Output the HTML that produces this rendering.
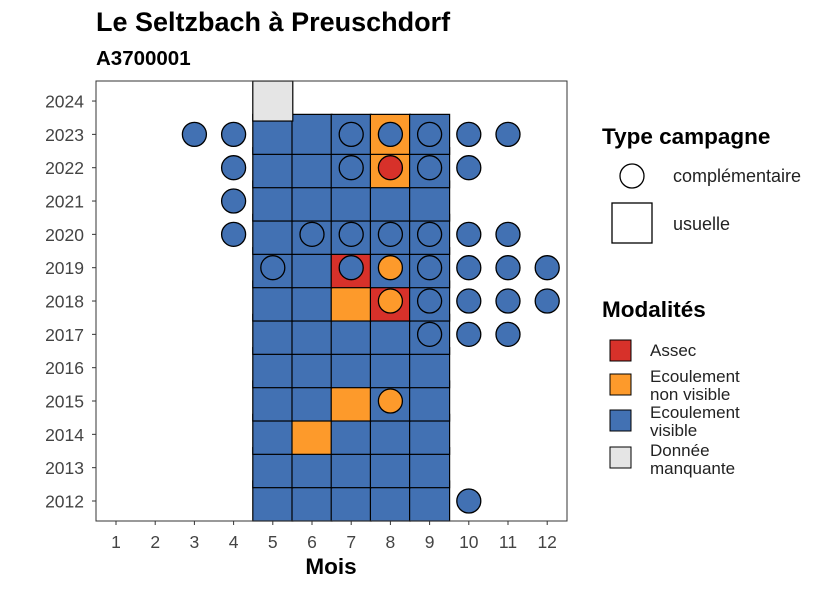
<!DOCTYPE html>
<html><head><meta charset="utf-8"><style>
body{margin:0;background:#fff;font-family:"Liberation Sans",sans-serif}
</style></head><body>
<svg id="c" width="826" height="590" xmlns="http://www.w3.org/2000/svg" font-family="Liberation Sans, sans-serif">
<text x="96" y="31" font-size="27" font-weight="bold" fill="#000">Le Seltzbach à Preuschdorf</text>
<text x="96" y="65" font-size="20.5" font-weight="bold" fill="#000">A3700001</text>
<g id="marks"></g>
<rect x="96" y="81" width="471" height="440" fill="none" stroke="#333" stroke-width="1"/>
<g id="axes"></g>
<text x="331" y="574" font-size="22.5" font-weight="bold" text-anchor="middle">Mois</text>
<g>
<text x="602" y="144" font-size="22.5" font-weight="bold">Type campagne</text>
<circle cx="632" cy="176" r="12" fill="#fff" stroke="#000" stroke-width="1.3"/>
<text x="673" y="182" font-size="18" fill="#222">complémentaire</text>
<rect x="612" y="203" width="40" height="40" fill="#fff" stroke="#000" stroke-width="1.3"/>
<text x="673" y="230" font-size="18" fill="#222">usuelle</text>
<text x="602" y="317" font-size="22.5" font-weight="bold">Modalités</text>
<rect x="610" y="340" width="21" height="21" fill="#d7312a" stroke="#000"/>
<text x="650" y="356" font-size="17" fill="#222">Assec</text>
<rect x="610" y="374" width="21" height="21" fill="#fd9a2b" stroke="#000"/>
<text x="650" y="382" font-size="17" fill="#222"><tspan x="650">Ecoulement</tspan><tspan x="650" dy="18">non visible</tspan></text>
<rect x="610" y="410" width="21" height="21" fill="#4271b3" stroke="#000"/>
<text x="650" y="418" font-size="17" fill="#222"><tspan x="650">Ecoulement</tspan><tspan x="650" dy="18">visible</tspan></text>
<rect x="610" y="447" width="21" height="21" fill="#e5e5e5" stroke="#000"/>
<text x="650" y="456" font-size="17" fill="#222"><tspan x="650">Donnée</tspan><tspan x="650" dy="18">manquante</tspan></text>
</g>
</svg>
<script>
const xTicks=[1,2,3,4,5,6,7,8,9,10,11,12];
const yTicks=[2012,2013,2014,2015,2016,2017,2018,2019,2020,2021,2022,2023,2024];
const colors={A:"#d7312a",N:"#fd9a2b",V:"#4271b3",M:"#e5e5e5"};
const usYears=[2012,2013,2014,2015,2016,2017,2018,2019,2020,2021,2022,2023];
const usMonths=[5,6,7,8,9];
const usExceptions=[[2014,6,"N"],[2015,7,"N"],[2018,7,"N"],[2018,8,"A"],[2019,7,"A"],[2022,8,"N"],[2023,8,"N"]];
const missing=[[2024,5,"M"]];
const comp=[[2012,10,"V"],[2015,8,"N"],[2017,9,"V"],[2017,10,"V"],[2017,11,"V"],
[2018,8,"N"],[2018,9,"V"],[2018,10,"V"],[2018,11,"V"],[2018,12,"V"],
[2019,5,"V"],[2019,7,"V"],[2019,8,"N"],[2019,9,"V"],[2019,10,"V"],[2019,11,"V"],[2019,12,"V"],
[2020,4,"V"],[2020,6,"V"],[2020,7,"V"],[2020,8,"V"],[2020,9,"V"],[2020,10,"V"],[2020,11,"V"],
[2021,4,"V"],[2022,4,"V"],[2022,7,"V"],[2022,8,"A"],[2022,9,"V"],[2022,10,"V"],
[2023,3,"V"],[2023,4,"V"],[2023,7,"V"],[2023,8,"V"],[2023,9,"V"],[2023,10,"V"],[2023,11,"V"]];
const NS="http://www.w3.org/2000/svg";
const X=m=>116+(m-1)*39.2;
const Y=y=>501-(y-2012)*33.33;
const g=document.getElementById("marks"),ax=document.getElementById("axes");
function mk(t,a,p){const e=document.createElementNS(NS,t);for(const k in a)e.setAttribute(k,a[k]);p.appendChild(e);return e;}
const usual=[];
usYears.forEach(y=>usMonths.forEach(m=>{const ex=usExceptions.find(e=>e[0]===y&&e[1]===m);usual.push([y,m,ex?ex[2]:"V"]);}));
missing.forEach(d=>usual.push(d));
usual.forEach(d=>{const r=mk("rect",{x:X(d[1])-20,y:Y(d[0])-20,width:40,height:40,fill:colors[d[2]],stroke:"#000","stroke-width":1.2},g);

});
comp.forEach(d=>{const c=mk("circle",{cx:X(d[1]),cy:Y(d[0]),r:12,fill:colors[d[2]],stroke:"#000","stroke-width":1.3},g);

});
xTicks.forEach(m=>{mk("line",{x1:X(m),x2:X(m),y1:521,y2:525,stroke:"#333"},ax);
const t=mk("text",{x:X(m),y:548,"font-size":17.5,"text-anchor":"middle",fill:"#444"},ax);t.textContent=m;

});
yTicks.forEach(y=>{mk("line",{x1:92,x2:96,y1:Y(y),y2:Y(y),stroke:"#333"},ax);
const t=mk("text",{x:84,y:Y(y)+6.5,"font-size":17.5,"text-anchor":"end",fill:"#444"},ax);t.textContent=y;

});
</script>
</body></html>
